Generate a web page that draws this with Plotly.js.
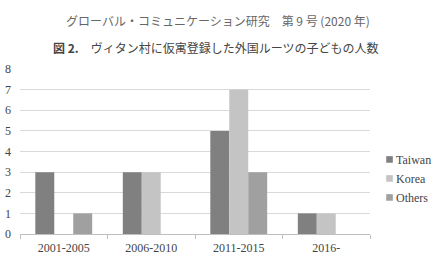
<!DOCTYPE html>
<html>
<head>
<meta charset="utf-8">
<script src="https://cdn.plot.ly/plotly-3.0.1.min.js"></script>
<style>html,body{margin:0;padding:0;background:#fff;}#chart{width:439px;height:263px;}</style>
</head>
<body>
<div id="chart"></div>
<script>
const categories = ["2001-2005", "2006-2010", "2011-2015", "2016-"];
const taiwan = [3, 3, 5, 1];
const korea = [0, 3, 7, 1];
const others = [1, 0, 3, 0];
const seriesNames = ["Taiwan", "Korea", "Others"];
const headerText = "グローバル・コミュニケーション研究　第 9 号 (2020 年)";
const titleText = "<b>図 2.</b>　ヴィタン村に仮寓登録した外国ルーツの子どもの人数";

const serif = "'Liberation Serif', 'DejaVu Serif', 'Noto Sans CJK JP', serif";
const cjk = "'Noto Sans CJK JP', sans-serif";
const colors = ["#808080", "#c4c4c4", "#a0a0a0"];
const values = [taiwan, korea, others];

const data = values.map((v, i) => ({
  type: "bar",
  x: categories,
  y: v,
  name: seriesNames[i],
  marker: {color: colors[i]},
  hoverinfo: "skip"
}));

const layout = {
  width: 439, height: 263,
  margin: {l: 20, r: 69, t: 69, b: 29, autoexpand: false},
  paper_bgcolor: "#fff", plot_bgcolor: "#fff",
  barmode: "group",
  bargap: 0.35, bargroupgap: 0,
  showlegend: true,
  legend: {xref: "container", yref: "container", x: 0.811, y: 0.3215, yanchor: "middle", xanchor: "left",
           font: {family: serif, size: 12, color: "#444"},
           itemwidth: 30, tracegroupgap: 0, bgcolor: "rgba(0,0,0,0)"},
  xaxis: {
    type: "category",
    tickson: "boundaries",
    ticks: "outside", ticklen: 4, tickcolor: "#bfbfbf",
    showline: true, linecolor: "#bfbfbf", linewidth: 1,
    showgrid: false,
    ticklabelstandoff: 3,
    tickfont: {family: serif, size: 12, color: "#444"},
    fixedrange: true
  },
  yaxis: {
    range: [0, 8], dtick: 1,
    showgrid: true, gridcolor: "#d9d9d9", gridwidth: 1,
    zeroline: false, showline: false,
    ticks: "", ticklen: 0,
    ticklabelstandoff: 8,
    tickfont: {family: serif, size: 12, color: "#444"},
    fixedrange: true
  },
  annotations: [
    {text: headerText, xref: "paper", yref: "paper", x: 0.566, y: 1, yshift: 49,
     xanchor: "center", yanchor: "middle", showarrow: false,
     font: {family: cjk, size: 12, color: "#666"}},
    {text: titleText, xref: "paper", yref: "paper", x: 0.559, y: 1, yshift: 22,
     xanchor: "center", yanchor: "middle", showarrow: false,
     font: {family: cjk, size: 12, color: "#444"}}
  ]
};

Plotly.newPlot("chart", data, layout, {displayModeBar: false, staticPlot: true}).then(() => {
  // shrink legend swatches to small squares just before the text, as in the reference
  document.querySelectorAll("#chart .legend .traces").forEach(tr => {
    const txt = tr.querySelector("text.legendtext");
    const tx = txt ? parseFloat(txt.getAttribute("x")) : 40;
    tr.querySelectorAll(".legendpoints path").forEach(p => {
      p.setAttribute("transform", "translate(" + (tx - 6.5) + ",0) scale(0.55)");
    });
  });
});
</script>
</body>
</html>
